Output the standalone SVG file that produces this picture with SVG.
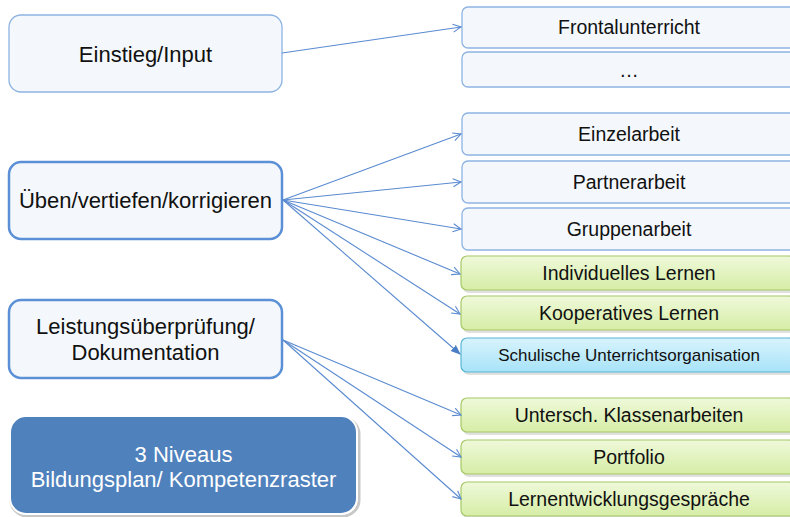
<svg xmlns="http://www.w3.org/2000/svg" width="790" height="517" viewBox="0 0 790 517">
  <defs>
    <linearGradient id="gGreen" x1="0" y1="0" x2="0" y2="1">
      <stop offset="0" stop-color="#eff9da"/>
      <stop offset="1" stop-color="#d6eda6"/>
    </linearGradient>
    <linearGradient id="gCyan" x1="0" y1="0" x2="0" y2="1">
      <stop offset="0" stop-color="#d8f4fd"/>
      <stop offset="1" stop-color="#a8e3f8"/>
    </linearGradient>
    <marker id="open" viewBox="0 0 10 10" refX="9" refY="5" markerWidth="10" markerHeight="10" markerUnits="userSpaceOnUse" orient="auto">
      <path d="M1,1 L9,5 L1,9" fill="none" stroke="#5a8bd0" stroke-width="1.1"/>
    </marker>
    <marker id="solid" viewBox="0 0 10 10" refX="9" refY="5" markerWidth="10" markerHeight="10" markerUnits="userSpaceOnUse" orient="auto">
      <path d="M0,1 L10,5 L0,9 Z" fill="#4a7ec4"/>
    </marker>
  </defs>
  <style>
    text { font-family: "Liberation Sans", Arial, sans-serif; fill: #111; text-anchor: middle; }
    .main { fill: #f4f8fc; stroke: #5b8fd6; stroke-width: 2.5; }
    .mainThin { fill: #f4f8fc; stroke: #8db3e2; stroke-width: 1.3; }
    .item { fill: #f4f8fc; stroke: #8db3e2; stroke-width: 1.3; }
    .green { fill: url(#gGreen); stroke: #a6c866; stroke-width: 1.2; }
    .cyan { fill: url(#gCyan); stroke: #58b6d6; stroke-width: 1.2; }
    .shadow { fill: #000; opacity: 0.12; }
    .t22 { font-size: 22px; }
    .t19 { font-size: 19.5px; }
    .t17 { font-size: 17px; }
    .link { fill: none; stroke: #5a8bd0; stroke-width: 1.1; }
  </style>

  <rect width="790" height="517" fill="#ffffff"/>

  <!-- left column -->
  <g id="einstieg">
    <rect class="mainThin" x="9" y="15" width="273" height="77" rx="12"/>
    <text class="t22" x="145.5" y="61.5">Einstieg/Input</text>
  </g>
  <g id="ueben">
    <rect class="main" x="9" y="162" width="273" height="77" rx="12"/>
    <text class="t22" x="145.5" y="208">Üben/vertiefen/korrigieren</text>
  </g>
  <g id="leistung">
    <rect class="main" x="9" y="300" width="273" height="78" rx="12"/>
    <text class="t22" x="145.5" y="334">Leistungsüberprüfung/</text>
    <text class="t22" x="145.5" y="360">Dokumentation</text>
  </g>
  <g id="niveaus">
    <rect x="11" y="418" width="348" height="98" rx="16" fill="none" stroke="#c8c8c8" stroke-width="3"/>
    <rect x="10" y="416" width="347" height="98" rx="16" fill="#4f81bd" stroke="#ffffff" stroke-width="2"/>
    <text class="t22" x="183.5" y="462" style="fill:#ffffff">3 Niveaus</text>
    <text class="t22" x="183.5" y="487" style="fill:#ffffff">Bildungsplan/ Kompetenzraster</text>
  </g>

  <!-- right column -->
  <g id="frontal">
    <rect class="item" x="462" y="7" width="334" height="41" rx="6"/>
    <text class="t19" x="629" y="34">Frontalunterricht</text>
  </g>
  <g id="weitere">
    <rect class="item" x="462" y="52" width="334" height="35" rx="6"/>
    <text class="t19" x="629" y="77">…</text>
  </g>
  <g id="einzel">
    <rect class="item" x="462" y="113" width="334" height="42" rx="6"/>
    <text class="t19" x="629" y="140.5">Einzelarbeit</text>
  </g>
  <g id="partner">
    <rect class="item" x="462" y="161" width="334" height="42" rx="6"/>
    <text class="t19" x="629" y="188.5">Partnerarbeit</text>
  </g>
  <g id="gruppe">
    <rect class="item" x="462" y="208" width="334" height="42" rx="6"/>
    <text class="t19" x="629" y="235.5">Gruppenarbeit</text>
  </g>
  <g id="individuell">
    <rect class="shadow" x="463" y="258" width="334" height="35" rx="6"/>
    <rect class="green" x="461" y="256" width="334" height="34" rx="6"/>
    <text class="t19" x="629" y="279.5">Individuelles Lernen</text>
  </g>
  <g id="kooperativ">
    <rect class="shadow" x="463" y="298" width="334" height="35" rx="6"/>
    <rect class="green" x="461" y="296" width="334" height="34" rx="6"/>
    <text class="t19" x="629" y="320">Kooperatives Lernen</text>
  </g>
  <g id="schulisch">
    <rect class="shadow" x="463" y="340" width="334" height="35" rx="6"/>
    <rect class="cyan" x="461" y="338" width="334" height="34" rx="6"/>
    <text class="t17" x="629" y="361">Schulische Unterrichtsorganisation</text>
  </g>
  <g id="klassenarbeiten">
    <rect class="shadow" x="463" y="400" width="334" height="35" rx="6"/>
    <rect class="green" x="461" y="398" width="334" height="34" rx="6"/>
    <text class="t19" x="629" y="422">Untersch. Klassenarbeiten</text>
  </g>
  <g id="portfolio">
    <rect class="shadow" x="463" y="442" width="334" height="35" rx="6"/>
    <rect class="green" x="461" y="440" width="334" height="34" rx="6"/>
    <text class="t19" x="629" y="464">Portfolio</text>
  </g>
  <g id="gespraeche">
    <rect class="shadow" x="463" y="484" width="334" height="35" rx="6"/>
    <rect class="green" x="461" y="482" width="334" height="34" rx="6"/>
    <text class="t19" x="629" y="506">Lernentwicklungsgespräche</text>
  </g>

  <!-- connectors -->
  <g id="connectors">
    <line class="link" x1="282" y1="53" x2="461" y2="27" marker-end="url(#open)"/>
    <line class="link" x1="283" y1="200" x2="461" y2="134" marker-end="url(#open)"/>
    <line class="link" x1="283" y1="200" x2="461" y2="182" marker-end="url(#open)"/>
    <line class="link" x1="283" y1="200" x2="461" y2="229" marker-end="url(#open)"/>
    <line class="link" x1="283" y1="200" x2="460" y2="274" marker-end="url(#open)"/>
    <line class="link" x1="283" y1="200" x2="460" y2="314" marker-end="url(#open)"/>
    <line class="link" x1="283" y1="200" x2="460" y2="354" marker-end="url(#solid)"/>
    <line class="link" x1="283" y1="340" x2="461" y2="415" marker-end="url(#open)"/>
    <line class="link" x1="283" y1="340" x2="461" y2="457" marker-end="url(#open)"/>
    <line class="link" x1="283" y1="340" x2="461" y2="499" marker-end="url(#open)"/>
  </g>
</svg>
